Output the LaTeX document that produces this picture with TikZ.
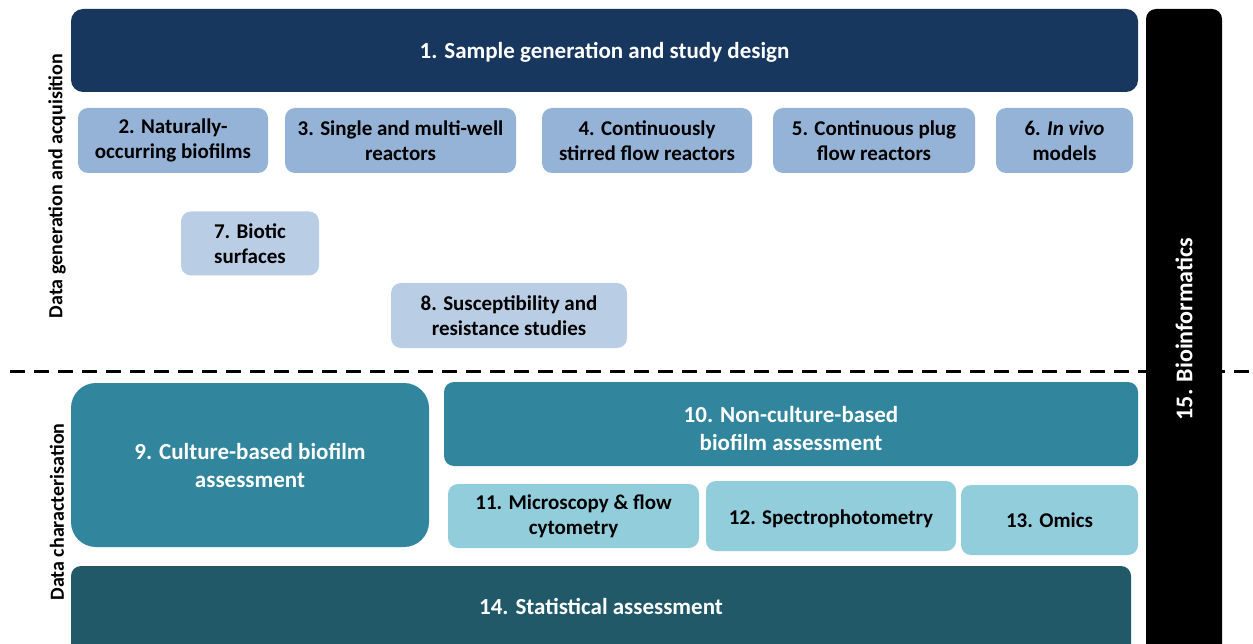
\documentclass[tikz,border=0pt]{standalone}
\usepackage{fontspec}
\setmainfont{Carlito}
\definecolor{navy}{HTML}{17375E}
\definecolor{lblue}{HTML}{95B3D7}
\definecolor{llblue}{HTML}{B9CDE5}
\definecolor{teal}{HTML}{31859C}
\definecolor{lteal}{HTML}{92CDDC}
\definecolor{dteal}{HTML}{215968}
\tikzset{
  box/.style={rounded corners=10pt, inner sep=0pt, align=center, font=\bfseries\fontsize{21}{25}\selectfont, text=black},
  big/.style={box, font=\bfseries\fontsize{23}{28}\selectfont, text=white},
  side/.style={rotate=90, font=\bfseries\fontsize{20}{22}\selectfont, text=black},
}
\begin{document}
\begin{tikzpicture}[x=1pt,y=-1pt]
\clip (0,0) rectangle (1253,644);
\fill[white] (0,0) rectangle (1253,644);
% dashed separator
\draw[line width=3pt, dash pattern=on 15pt off 9pt] (10,371) -- (1253,371);
% top
\node[box, fill=navy, rounded corners=12pt, minimum width=1067pt, minimum height=83pt] (n1) at (604.5,50.5) {};
\node[big] (n1t) at (604.5,52.5) {1. Sample generation and study design};
\node[box, fill=lblue, minimum width=190pt, minimum height=65pt] (n2) at (173,140.5) {2. Naturally-\\occurring biofilms};
\node[box, fill=lblue, minimum width=231pt, minimum height=65pt] (n3) at (400.5,140.5) {3. Single and multi-well\\reactors};
\node[box, fill=lblue, minimum width=210pt, minimum height=65pt] (n4) at (647,140.5) {4. Continuously\\stirred flow reactors};
\node[box, fill=lblue, minimum width=202pt, minimum height=65pt] (n5) at (874,140.5) {5. Continuous plug\\flow reactors};
\node[box, fill=lblue, minimum width=137pt, minimum height=65pt] (n6) at (1064.5,140.5) {6. \textit{In vivo}\\models};
\node[box, fill=llblue, minimum width=138pt, minimum height=64pt] (n7) at (250,243.5) {7. Biotic\\surfaces};
\node[box, fill=llblue, minimum width=236pt, minimum height=65pt] (n8) at (509,315.5) {8. Susceptibility and\\resistance studies};
% bottom
\node[big, fill=teal, rounded corners=25pt, minimum width=358pt, minimum height=164pt] (n9) at (250,465) {9. Culture-based biofilm\\assessment};
\node[box, fill=teal, minimum width=694pt, minimum height=84pt] (n10) at (791,424) {};
\node[big] (n10t) at (791,429) {10. Non-culture-based\\biofilm assessment};
\node[box, fill=lteal, minimum width=251pt, minimum height=64pt] (n11) at (573.5,516) {11. Microscopy \& flow\\cytometry};
\node[box, fill=lteal, minimum width=250pt, minimum height=70pt] (n12) at (831,516) {};
\node[box] (n12t) at (831,519) {12. Spectrophotometry};
\node[box, fill=lteal, minimum width=177pt, minimum height=70pt] (n13) at (1049.5,520) {13. Omics};
\node[box, fill=dteal, minimum width=1060pt, minimum height=88pt] (n14) at (601,610) {};
\node[big] (n14t) at (601,606) {14. Statistical assessment};
\node[box, fill=black, minimum width=76pt, minimum height=645pt] (n15) at (1184,331.5) {};
\node[big, rotate=90, font=\bfseries\fontsize{24}{28}\selectfont] (n15t) at (1184,329) {15. Bioinformatics};
% side labels
\node[side] (lab1) at (57,186) {Data generation and acquisition};
\node[side] (lab2) at (57,512) {Data characterisation};
\end{tikzpicture}
\end{document}
